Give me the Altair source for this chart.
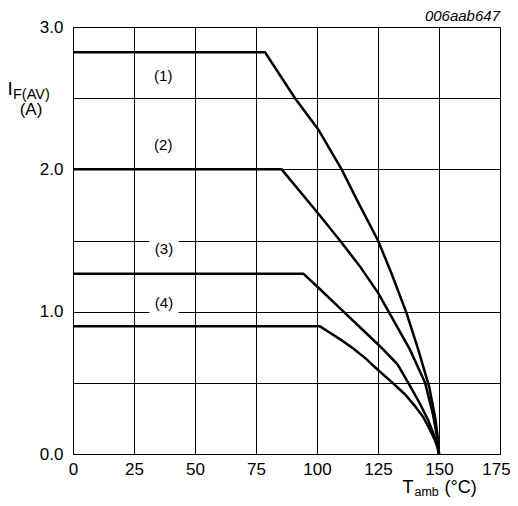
import altair as alt
import pandas as pd

# Curve data (T_amb in °C, I_F(AV) in A)
c1_T = [0, 78.7, 91.0, 100.5, 110.1, 116.3, 125.0, 130.5, 136.7, 141.5, 146.0, 148.5, 149.6, 150]
c1_I = [2.822, 2.822, 2.50, 2.28, 2.00, 1.787, 1.50, 1.27, 0.99, 0.733, 0.47, 0.25, 0.10, 0]
c2_T = [0, 85.5, 100.5, 109.4, 117.6, 125.1, 132.0, 138.1, 144.3, 147.5, 149.2, 150]
c2_I = [2.0, 2.0, 1.69, 1.50, 1.318, 1.13, 0.92, 0.733, 0.50, 0.28, 0.12, 0]
c3_T = [0, 94.4, 100.5, 110, 120, 127.2, 133, 137.4, 142, 145.5, 148, 149.5, 150]
c3_I = [1.267, 1.267, 1.17, 1.015, 0.852, 0.733, 0.63, 0.50, 0.36, 0.24, 0.13, 0.05, 0]
c4_T = [0, 101.2, 105, 110, 115, 120, 125, 131, 136, 140, 143.5, 146, 148, 149.3, 150]
c4_I = [0.897, 0.897, 0.855, 0.80, 0.74, 0.67, 0.59, 0.50, 0.42, 0.34, 0.26, 0.18, 0.11, 0.05, 0]

curve_names = ["(1)", "(2)", "(3)", "(4)"]
label_T = [37, 37, 37.3, 37.3]
label_I = [2.659, 2.169, 1.438, 1.061]
label_gap = [False, False, True, True]

x_ticks = [0, 25, 50, 75, 100, 125, 150, 175]
y_ticks = [0, 0.5, 1.0, 1.5, 2.0, 2.5, 3.0]

rows = []
for name, Ts, Is in zip(curve_names, [c1_T, c2_T, c3_T, c4_T], [c1_I, c2_I, c3_I, c4_I]):
    for k, (t, i) in enumerate(zip(Ts, Is)):
        rows.append({"curve": name, "T": t, "I": i, "idx": k})
df = pd.DataFrame(rows)
lab = pd.DataFrame({"T": label_T, "I": label_I, "text": curve_names, "gap": label_gap})

FONT = "Liberation Sans"
x_scale = alt.Scale(domain=[0, 175], nice=False)
y_scale = alt.Scale(domain=[0, 3], nice=False)

x_axis = alt.Axis(values=x_ticks, grid=True, gridColor="black", gridWidth=1, gridOpacity=1,
                  domain=False, ticks=False, labelFontSize=17, labelFont=FONT,
                  labelColor="black", labelPadding=7, title=None, labelFlush=False,
                  labelOffset={"condition": {"test": "datum.value == 175", "value": -4}, "value": 0})
y_axis = alt.Axis(values=y_ticks, grid=True, gridColor="black", gridWidth=1, gridOpacity=1,
                  domain=False, ticks=False, labelFontSize=17, labelFont=FONT,
                  labelColor="black", labelPadding=10, title=None,
                  labelExpr="datum.value % 1 == 0 ? format(datum.value, '.1f') : ''")

lines = alt.Chart(df).mark_line(color="black", strokeWidth=2.5).encode(
    x=alt.X("T:Q", scale=x_scale, axis=x_axis),
    y=alt.Y("I:Q", scale=y_scale, axis=y_axis),
    detail="curve:N",
    order="idx:Q",
)

gaps = alt.Chart(lab).transform_filter("datum.gap").mark_point(
    shape="M-1,-0.69L1,-0.69L1,0.69L-1,0.69Z", size=841, filled=True,
    color="white", opacity=1, strokeWidth=0
).encode(x=alt.X("T:Q", scale=x_scale), y=alt.Y("I:Q", scale=y_scale))

labels = alt.Chart(lab).mark_text(font=FONT, fontSize=15, color="black").encode(
    x=alt.X("T:Q", scale=x_scale), y=alt.Y("I:Q", scale=y_scale), text="text:N"
)

one = pd.DataFrame({"a": [0]})

def txt(s, x, y, size, align="left", style="normal"):
    return alt.Chart(one).mark_text(text=s, font=FONT, fontSize=size, color="black",
                                    align=align, baseline="alphabetic", fontStyle=style
                                    ).encode(x=alt.value(x), y=alt.value(y))

titles = [
    txt("I", -65.5, 68, 19),
    txt("F(AV)", -60, 71.5, 14.5),
    txt("(A)", -42, 88, 17, align="center"),
    txt("T", 329.5, 466, 18),
    txt("amb", 341.5, 468.8, 12.5),
    txt("(°C)", 371.5, 466, 18),
    txt("006aab647", 427, -6.5, 15, align="right", style="italic"),
]

chart = alt.layer(gaps, lines, labels, *titles).properties(
    width=427, height=427,
    autosize=alt.AutoSizeParams(type="none"),
    padding={"left": 65, "top": 19, "right": 10, "bottom": 44},
    background="white",
).configure_view(stroke="black", strokeWidth=1)

chart.save("out.html", embed_options={"renderer": "svg", "actions": False})
